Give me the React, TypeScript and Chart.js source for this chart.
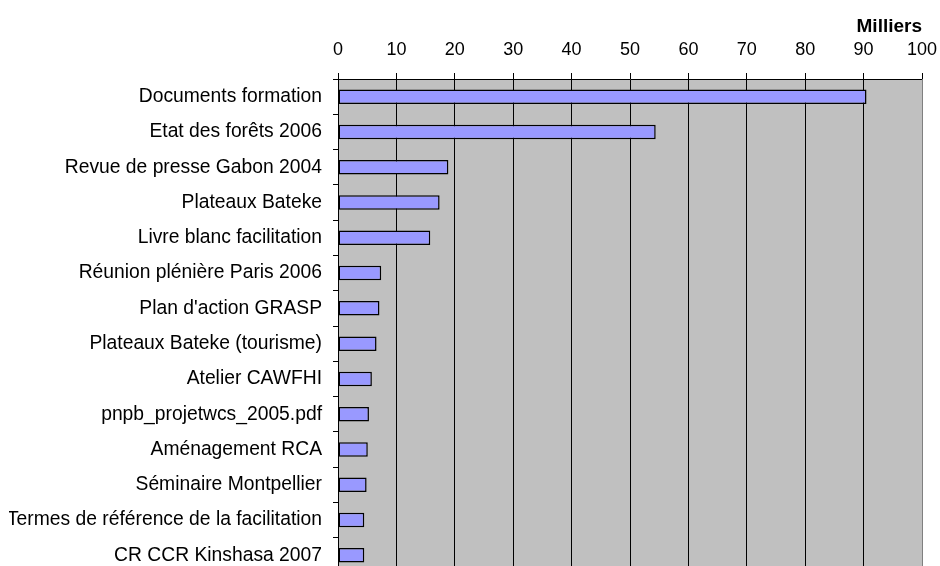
import React, { useEffect, useRef } from 'react';
import { Chart, registerables } from 'chart.js';

Chart.register(...registerables);

const categories = [
  'Documents formation',
  'Etat des forêts 2006',
  'Revue de presse Gabon 2004',
  'Plateaux Bateke',
  'Livre blanc facilitation',
  'Réunion plénière Paris 2006',
  "Plan d'action GRASP",
  'Plateaux Bateke (tourisme)',
  'Atelier CAWFHI',
  'pnpb_projetwcs_2005.pdf',
  'Aménagement RCA',
  'Séminaire Montpellier',
  'Termes de référence de la facilitation',
  'CR CCR Kinshasa 2007',
];

// values in thousands ("Milliers")
const values = [90.5, 54.4, 18.9, 17.4, 15.8, 7.4, 7.1, 6.6, 5.8, 5.3, 5.1, 4.9, 4.5, 4.5];

const axisMin = 0;
const axisMax = 100;
const axisStep = 10;
const unitLabel = 'Milliers';

const FONT = 'Liberation Sans, Arial, Helvetica, sans-serif';

export default function App() {
  const ref = useRef<HTMLCanvasElement>(null);

  useEffect(() => {
    document.body.style.margin = '0';
    document.body.style.overflow = 'hidden';
    const plotBg = {
      id: 'plotBg',
      beforeDraw(chart: any) {
        const { ctx, chartArea: a } = chart;
        ctx.save();
        ctx.fillStyle = '#C0C0C0';
        ctx.fillRect(a.left, a.top, a.right - a.left, a.bottom - a.top);
        ctx.restore();
      },
      afterDatasetsDraw(chart: any) {
        const { ctx, chartArea: a } = chart;
        ctx.save();
        ctx.strokeStyle = '#808080';
        ctx.lineWidth = 1;
        ctx.beginPath();
        ctx.moveTo(Math.round(a.right) + 0.5, a.top);
        ctx.lineTo(Math.round(a.right) + 0.5, a.bottom);
        ctx.stroke();
        ctx.restore();
      },
    };
    const chart = new Chart(ref.current as HTMLCanvasElement, {
      type: 'bar',
      data: {
        labels: categories,
        datasets: [
          {
            data: values,
            backgroundColor: '#9999FF',
            borderColor: '#000000',
            borderWidth: 1.5,
            borderSkipped: false,
            barPercentage: 0.41,
            categoryPercentage: 1,
          },
        ],
      },
      options: {
        indexAxis: 'y',
        responsive: false,
        animation: false,
        events: [],
        layout: { padding: { left: 9, top: 15, right: 18, bottom: 1 } },
        plugins: {
          legend: { display: false },
          tooltip: { enabled: false },
        },
        scales: {
          x: {
            position: 'top',
            min: axisMin,
            max: axisMax,
            ticks: {
              stepSize: axisStep,
              color: '#000',
              font: { family: FONT, size: 18 },
              padding: 12,
              maxRotation: 0,
              autoSkip: false,
            },
            grid: {
              color: (c: any) => (c.tick && c.tick.value === axisMax ? 'rgba(0,0,0,0)' : '#000000'),
              tickColor: '#000000',
              lineWidth: 1,
              tickLength: 6,
            },
            border: { display: true, color: '#000000', width: 1 },
            title: {
              display: true,
              text: unitLabel,
              align: 'end',
              color: '#000',
              font: { family: FONT, size: 19, weight: 'bold' },
              padding: { top: 0, bottom: 3 },
            },
            afterFit: (s: any) => {
              s.height = 64;
              s.paddingLeft = 0;
              s.paddingRight = 0;
            },
          },
          y: {
            ticks: {
              color: '#000',
              font: { family: FONT, size: 19.3 },
              padding: 11,
              autoSkip: false,
            },
            grid: {
              offset: true,
              drawOnChartArea: false,
              color: '#000000',
              tickLength: 5,
            },
            border: { display: true, color: '#000000', width: 1 },
            afterFit: (s: any) => {
              s.width = 329;
              s.paddingTop = 0;
              s.paddingBottom = 0;
            },
          },
        },
      },
      plugins: [plotBg],
    } as any);
    return () => chart.destroy();
  }, []);

  return (
    <div style={{ width: 940, height: 574 }}>
      <canvas ref={ref} width={940} height={574} style={{ display: 'block' }} />
    </div>
  );
}
